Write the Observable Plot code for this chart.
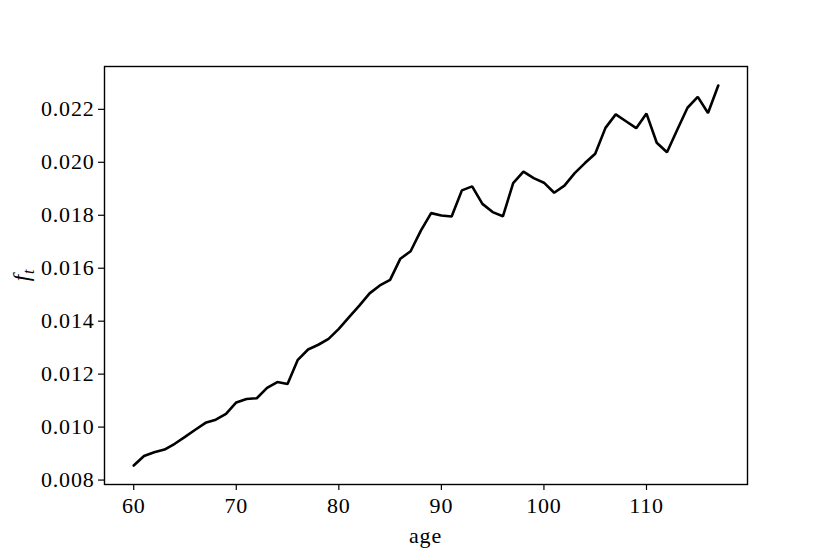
<!DOCTYPE html>
<html>
<head>
<meta charset="utf-8">
<script src="https://cdn.jsdelivr.net/npm/d3@7"></script>
<script src="https://cdn.jsdelivr.net/npm/@observablehq/plot@0.6"></script>
<style>
  html, body { margin: 0; padding: 0; background: #fff; }
  svg text { letter-spacing: 0.8px; }
</style>
</head>
<body>
<div id="chart"></div>
<script>
const ages = d3.range(60, 118);
const ft = [
  0.00855, 0.00891, 0.00905, 0.00915, 0.00937, 0.00963, 0.00990, 0.01016, 0.01028, 0.01050,
  0.01093, 0.01106, 0.01109, 0.01148, 0.01170, 0.01163, 0.01254, 0.01293, 0.01311, 0.01333,
  0.01371, 0.01415, 0.01459, 0.01505, 0.01535, 0.01556, 0.01636, 0.01664, 0.01742, 0.01808,
  0.01799, 0.01795, 0.01894, 0.01909, 0.01843, 0.01812, 0.01796, 0.01921, 0.01965, 0.01940,
  0.01923, 0.01885, 0.01912, 0.01959, 0.01997, 0.02032, 0.02130, 0.02181, 0.02155, 0.02129,
  0.02184, 0.02074, 0.02038, 0.02123, 0.02206, 0.02247, 0.02186, 0.02290
];
const xTicks = [60, 70, 80, 90, 100, 110];
const yTicks = [0.008, 0.010, 0.012, 0.014, 0.016, 0.018, 0.020, 0.022];

const data = ages.map((a, i) => ({age: a, f: ft[i]}));

const W = 830, H = 554;
const mL = 104, mR = 83, mT = 66, mB = 70;

const xPad = (117 - 60) * 0.05;
const yMin = d3.min(ft), yMax = d3.max(ft), yPad = (yMax - yMin) * 0.05;

const font = "'Liberation Serif', 'DejaVu Serif', serif";

const chart = Plot.plot({
  width: W,
  height: H,
  marginLeft: mL,
  marginRight: mR,
  marginTop: mT,
  marginBottom: mB,
  style: {fontFamily: font, fontSize: "22px", color: "#000", background: "#fff"},
  x: {domain: [60 - xPad, 117 + xPad]},
  y: {domain: [yMin - yPad, yMax + yPad]},
  marks: [
    Plot.axisX({ticks: xTicks, tickSize: 6, tickPadding: 7, tickFormat: d => String(d), label: null, fontSize: 22, strokeWidth: 1.2}),
    Plot.axisY({ticks: yTicks, tickSize: 6, tickPadding: 4, tickFormat: d => d.toFixed(3), label: null, fontSize: 22, strokeWidth: 1.2}),
    Plot.line(data, {x: "age", y: "f", stroke: "#000", strokeWidth: 2.6, strokeLinejoin: "miter"}),
    Plot.frame({stroke: "#000", strokeWidth: 1.4})
  ]
});

document.getElementById("chart").appendChild(chart);

const svg = d3.select(chart);
svg.append("text")
  .attr("x", (mL + (W - mR)) / 2)
  .attr("y", 543)
  .attr("text-anchor", "middle")
  .attr("font-family", font)
  .attr("font-size", 22)
  .attr("fill", "#000")
  .text("age");

const yl = svg.append("text")
  .attr("transform", `translate(29, ${(mT + (H - mB)) / 2}) rotate(-90)`)
  .attr("text-anchor", "middle")
  .attr("font-family", font)
  .attr("font-size", 23)
  .attr("fill", "#000");
yl.append("tspan").attr("font-style", "italic").text("f");
yl.append("tspan").attr("font-style", "italic").attr("font-size", 16).attr("dy", 5).text("t");
</script>
</body>
</html>
